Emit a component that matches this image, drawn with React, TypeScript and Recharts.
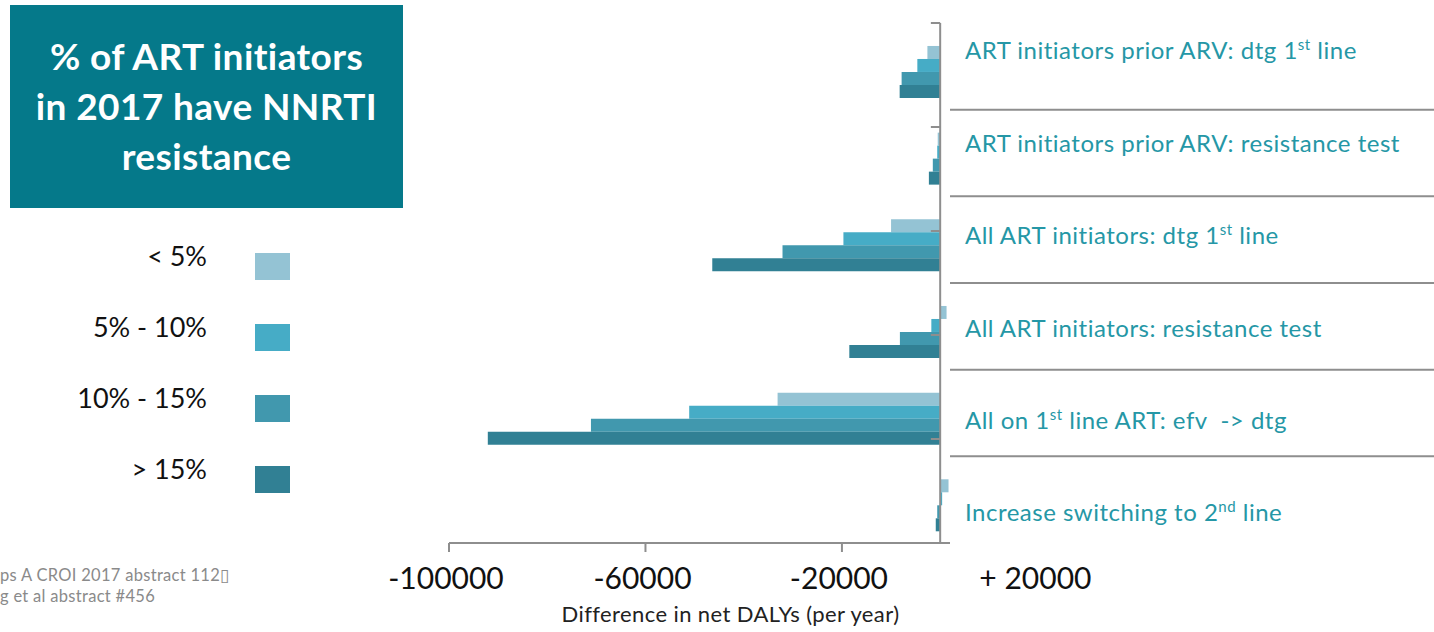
import React from 'react';
import { BarChart, Bar, XAxis, YAxis, ReferenceLine } from 'recharts';

const categories = [
  'ART initiators prior ARV: dtg 1^st^ line',
  'ART initiators prior ARV: resistance test',
  'All ART initiators: dtg 1^st^ line',
  'All ART initiators: resistance test',
  'All on 1^st^ line ART: efv  -> dtg',
  'Increase switching to 2^nd^ line',
];
const seriesNames = ['< 5%', '5% - 10%', '10% - 15%', '> 15%'];
const seriesColors = ['#94C3D4', '#46ACC6', '#4198AE', '#318094'];
const lt5 = [-2600, -500, -10000, 1300, -33100, 1700];
const p5to10 = [-4650, -600, -19700, -1800, -51100, 400];
const p10to15 = [-7850, -1500, -32100, -8200, -71100, -600];
const gt15 = [-8250, -2300, -46400, -18500, -92100, -900];
const xTicks = [-100000, -60000, -20000, 20000];
const boundaries = [0, 1, 2, 3, 4, 5, 6];
const titleLines = ['% of ART initiators', 'in 2017 have NNRTI', 'resistance'];
const footLines = ['ps A CROI 2017 abstract 112\u25AF', 'g et al abstract #456'];
const xTitle = 'Difference in net DALYs (per year)';

const seriesValues = [lt5, p5to10, p10to15, gt15];
const data = categories.map((c, i) => {
  const row: any = { category: c };
  seriesValues.forEach((arr, s) => {
    row['s' + s] = arr[i];
  });
  return row;
});

const W = 1434;
const H = 632;
const PLOT_TOP = 23;
const PLOT_BOTTOM = 543;
const LEFT = 449;
const RIGHT_AXIS_W = 484;
const BAND = (PLOT_BOTTOM - PLOT_TOP) / categories.length;
const FONT = 'Lato, "Open Sans", sans-serif';
const AXIS_GRAY = '#8E8E8E';
const LABEL_TEAL = '#2597A6';
const NOLIG: any = { fontVariantLigatures: 'none', fontFeatureSettings: '"liga" 0, "clig" 0' };

function renderRich(label: string) {
  const parts = label.split('^');
  const out: any[] = [];
  let sup = false;
  parts.forEach((p, i) => {
    if (i > 0) sup = !sup;
    if (p === '') return;
    if (sup) {
      out.push(
        <tspan key={i} dy={-9} fontSize={15}>{p}</tspan>
      );
    } else {
      out.push(
        <tspan key={i} dy={i > 0 ? 9 : 0}>{p}</tspan>
      );
    }
  });
  return out;
}

const CatTick = (props: any) => {
  const { x, y, payload } = props;
  const idx = payload && payload.index != null ? payload.index : props.index;
  const off = (idx - 2.5) * 5.8 - 0.7;
  return (
    <g>
      <text
        x={x + 15}
        y={y + off + 8}
        fill={LABEL_TEAL}
        fontSize={24}
        fontFamily={FONT}
        textAnchor="start"
        letterSpacing={0.5}
        style={{ whiteSpace: 'pre', ...NOLIG }}
      >
        {renderRich(String(payload.value))}
      </text>
      {idx < categories.length - 1 && (
        <line
          x1={x}
          x2={x + RIGHT_AXIS_W}
          y1={y + BAND / 2}
          y2={y + BAND / 2}
          stroke={AXIS_GRAY}
          strokeWidth={2}
        />
      )}
    </g>
  );
};

const XTick = (props: any) => {
  const { x, y, payload } = props;
  const v = Number(payload.value);
  const label = v > 0 ? '+ ' + v : String(v);
  return (
    <g>
      {v < 0 && <line x1={x} x2={x} y1={y} y2={y + 9} stroke={AXIS_GRAY} strokeWidth={2} />}
      <text x={x - 3} y={y + 46} textAnchor="middle" fontSize={30} fontFamily={FONT} fill="#111">
        {label}
      </text>
    </g>
  );
};

const XTitle = (props: any) => {
  const vb = props.viewBox || {};
  return (
    <text
      x={vb.x + vb.width / 2 + 31}
      y={vb.y + 79}
      textAnchor="middle"
      fontSize={22}
      letterSpacing={0.4}
      fontFamily={FONT}
      fill="#222"
    >
      {xTitle}
    </text>
  );
};

export default function App() {
  return (
    <div style={{ position: 'absolute', left: 0, top: 0, width: W, height: H, background: '#fff', fontFamily: FONT }}>
      <BarChart
        width={W}
        height={H}
        data={data}
        layout="vertical"
        margin={{ top: PLOT_TOP, right: 0, bottom: 0, left: LEFT }}
        barGap={0}
        barCategoryGap="11.5%"
      >
        <XAxis
          type="number"
          domain={[-100000, 2000]}
          allowDataOverflow
          ticks={xTicks}
          interval={0}
          tick={<XTick />}
          tickLine={false}
          tickSize={0}
          tickMargin={0}
          axisLine={{ stroke: AXIS_GRAY, strokeWidth: 2 }}
          height={H - PLOT_BOTTOM}
          label={<XTitle />}
        />
        <YAxis
          type="category"
          dataKey="category"
          orientation="right"
          width={RIGHT_AXIS_W}
          axisLine={false}
          tickLine={false}
          tickSize={0}
          tickMargin={0}
          interval={0}
          tick={<CatTick />}
        />
        <YAxis yAxisId="grid" type="number" domain={[0, 6]} reversed hide allowDataOverflow />
        <Bar dataKey="pad" fill="transparent" isAnimationActive={false} legendType="none" />
        {seriesNames.map((n, s) => (
          <Bar key={n} dataKey={'s' + s} name={n} fill={seriesColors[s]} isAnimationActive={false} />
        ))}
        <ReferenceLine yAxisId="grid" x={0} stroke={AXIS_GRAY} strokeWidth={2} />
        {boundaries.map((b) => (
          <ReferenceLine
            key={b}
            yAxisId="grid"
            segment={[{ x: -1900, y: b }, { x: 0, y: b }]}
            stroke={AXIS_GRAY}
            strokeWidth={2}
            ifOverflow="visible"
          />
        ))}
      </BarChart>

      <div
        style={{
          position: 'absolute',
          left: 10,
          top: 5,
          width: 393,
          height: 203,
          background: '#05798A',
          color: '#fff',
          fontWeight: 700,
          fontSize: 37,
          lineHeight: '50px',
          letterSpacing: 0.4,
          textAlign: 'center',
          paddingTop: 26,
          boxSizing: 'border-box',
          ...NOLIG,
        }}
      >
        {titleLines.map((t) => (
          <div key={t}>{t}</div>
        ))}
      </div>

      <div style={{ position: 'absolute', left: 0, top: 231, width: 300 }}>
        {seriesNames.map((n, s) => (
          <div key={n} style={{ height: 71, position: 'relative' }}>
            <div
              style={{
                position: 'absolute',
                right: 93,
                top: 8,
                fontSize: 27,
                lineHeight: '34px',
                color: '#111',
                whiteSpace: 'pre',
              }}
            >
              {n}
            </div>
            <div
              style={{
                position: 'absolute',
                left: 255,
                top: 22,
                width: 35,
                height: 27,
                background: seriesColors[s],
              }}
            />
          </div>
        ))}
      </div>

      <div
        style={{
          position: 'absolute',
          left: 0,
          top: 565,
          fontSize: 16.5,
          lineHeight: '21px',
          letterSpacing: 0.3,
          color: '#8A8A8A',
          whiteSpace: 'pre',
        }}
      >
        {footLines.map((t) => (
          <div key={t}>{t}</div>
        ))}
      </div>
    </div>
  );
}
